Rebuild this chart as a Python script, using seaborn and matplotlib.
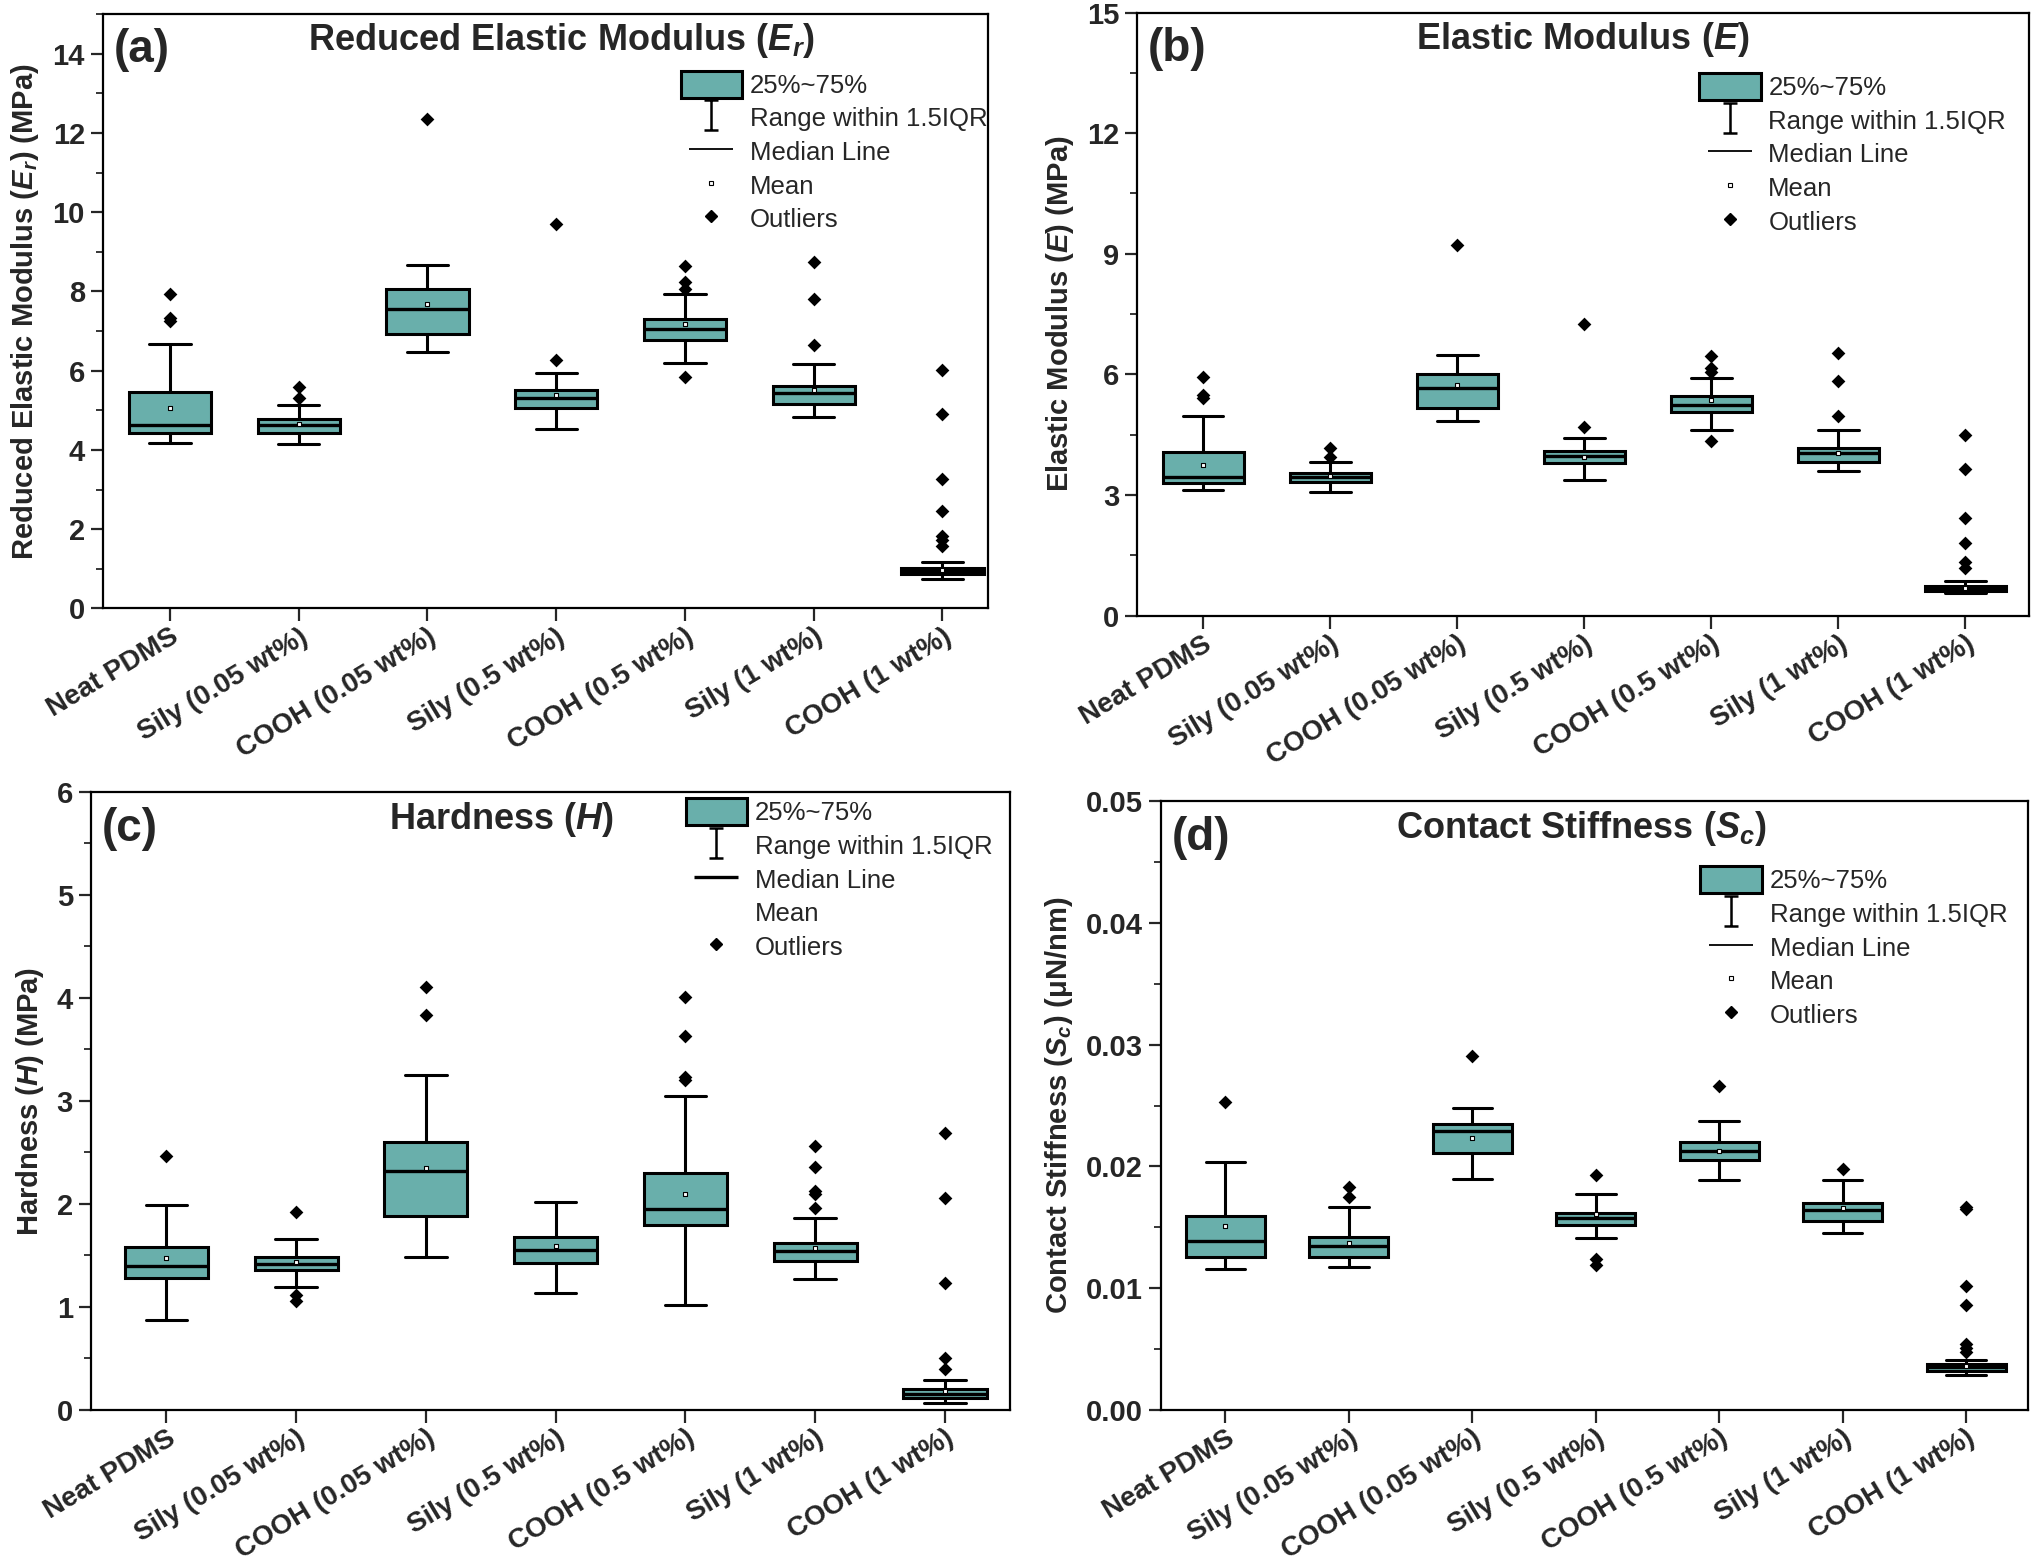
import numpy as np
import pandas as pd
import matplotlib
matplotlib.use("Agg")
import matplotlib.pyplot as plt
import matplotlib.transforms as mtransforms
import seaborn as sns
from matplotlib.patches import Patch
from matplotlib.lines import Line2D
from matplotlib.path import Path
from matplotlib.ticker import MultipleLocator, FormatStrFormatter

categories = ["Neat PDMS", "Sily (0.05 wt%)", "COOH (0.05 wt%)", "Sily (0.5 wt%)",
              "COOH (0.5 wt%)", "Sily (1 wt%)", "COOH (1 wt%)"]

# (a) Reduced elastic modulus
er_low = [4.17, 4.15, 6.48, 4.53, 6.19, 4.84, 0.74]
er_q1 = [4.44, 4.44, 6.92, 5.07, 6.78, 5.16, 0.86]
er_med = [4.64, 4.62, 7.55, 5.30, 7.05, 5.44, 0.95]
er_q3 = [5.47, 4.77, 8.06, 5.51, 7.31, 5.61, 1.03]
er_high = [6.67, 5.13, 8.66, 5.94, 7.94, 6.18, 1.17]
er_mean = [5.06, 4.65, 7.68, 5.38, 7.18, 5.52, 0.97]
er_out = [[7.94, 7.33, 7.26], [5.60, 5.30], [12.35], [6.28, 9.70],
          [8.64, 8.25, 8.07, 5.83], [8.74, 7.81, 6.66],
          [6.03, 4.91, 3.27, 2.46, 1.83, 1.73, 1.58]]

# (b) Elastic modulus
e_low = [3.13, 3.08, 4.84, 3.38, 4.63, 3.61, 0.56]
e_q1 = [3.30, 3.33, 5.17, 3.80, 5.06, 3.83, 0.61]
e_med = [3.45, 3.45, 5.66, 3.98, 5.25, 4.06, 0.68]
e_q3 = [4.07, 3.55, 6.02, 4.10, 5.46, 4.17, 0.74]
e_high = [4.96, 3.83, 6.48, 4.43, 5.92, 4.63, 0.87]
e_mean = [3.76, 3.47, 5.75, 3.95, 5.37, 4.06, 0.70]
e_out = [[5.93, 5.50, 5.41], [4.17, 3.95], [9.23], [4.69, 7.26],
         [6.47, 6.16, 6.06, 4.34], [6.54, 5.83, 4.98],
         [4.50, 3.66, 2.43, 1.82, 1.34, 1.18]]

# (c) Hardness
h_low = [0.87, 1.19, 1.49, 1.14, 1.02, 1.27, 0.07]
h_q1 = [1.28, 1.36, 1.88, 1.43, 1.80, 1.45, 0.12]
h_med = [1.40, 1.42, 2.32, 1.55, 1.95, 1.54, 0.16]
h_q3 = [1.58, 1.49, 2.60, 1.68, 2.30, 1.62, 0.20]
h_high = [1.99, 1.66, 3.25, 2.02, 3.05, 1.86, 0.29]
h_mean = [1.48, 1.44, 2.35, 1.59, 2.10, 1.57, 0.18]
h_out = [[2.47], [1.92, 1.12, 1.06], [4.11, 3.83], [],
         [4.01, 3.63, 3.23, 3.20], [2.56, 2.36, 2.13, 2.10, 1.96],
         [2.69, 2.06, 1.23, 0.50, 0.40]]

# (d) Contact stiffness
s_low = [0.0116, 0.0117, 0.0190, 0.0141, 0.0189, 0.0145, 0.0029]
s_q1 = [0.0126, 0.0126, 0.0211, 0.0152, 0.0205, 0.0155, 0.0032]
s_med = [0.0139, 0.0135, 0.0229, 0.0158, 0.0213, 0.0164, 0.0035]
s_q3 = [0.0159, 0.0142, 0.0235, 0.0162, 0.0220, 0.0170, 0.0038]
s_high = [0.0204, 0.0167, 0.0248, 0.0177, 0.0237, 0.0189, 0.0041]
s_mean = [0.0151, 0.0137, 0.0223, 0.0161, 0.0213, 0.0166, 0.0036]
s_out = [[0.0253], [0.0183, 0.0175], [0.0291], [0.0193, 0.0124, 0.0119],
         [0.0266], [0.0198],
         [0.0167, 0.0165, 0.0102, 0.0086, 0.0054, 0.0051, 0.0048]]

legend_labels = ["25%~75%", "Range within 1.5IQR", "Median Line", "Mean", "Outliers"]

TEAL = "#69AFAB"

sns.set_style("ticks")
plt.rcParams["font.family"] = ["Liberation Sans", "DejaVu Sans"]
plt.rcParams["mathtext.fontset"] = "custom"
plt.rcParams["mathtext.rm"] = "Liberation Sans:bold"
plt.rcParams["mathtext.bf"] = "Liberation Sans:bold"
plt.rcParams["mathtext.it"] = "Liberation Sans:italic:bold"
plt.rcParams["mathtext.bfit"] = "Liberation Sans:italic:bold"
plt.rcParams["axes.linewidth"] = 1.6

fig = plt.figure(figsize=(20.32, 15.63), dpi=100)

ibeam = Path([(-0.45, -1), (0.45, -1), (0, -1), (0, 1), (-0.45, 1), (0.45, 1)],
             [Path.MOVETO, Path.LINETO, Path.MOVETO, Path.LINETO, Path.MOVETO, Path.LINETO])

label_shift = mtransforms.ScaledTranslation(14 / 100, 0, fig.dpi_scale_trans)


def draw_panel(rect, low, q1, med, q3, high, mean, outliers, xlim, ylim, major, minor,
               fmt, ylabel, title, title_x, letter, leg_anchor, mean_visible=True,
               median_lw=1.3):
    ax = fig.add_axes(rect)
    box_df = pd.DataFrame({
        "group": np.repeat(categories, 5),
        "value": np.column_stack([low, q1, med, q3, high]).ravel(),
    })
    sns.boxplot(data=box_df, x="group", y="value", order=categories, whis=(0, 100),
                width=0.64, color=TEAL, saturation=1, linecolor="black", linewidth=2.2,
                showfliers=False, ax=ax, medianprops=dict(linewidth=2.4, color="black"))
    og, ov = [], []
    for c, vals in zip(categories, outliers):
        og += [c] * len(vals)
        ov += list(vals)
    out_df = pd.DataFrame({"group": og, "value": ov})
    sns.stripplot(data=out_df, x="group", y="value", order=categories, jitter=False,
                  marker="D", color="black", size=7, linewidth=0, ax=ax, zorder=5)
    mean_df = pd.DataFrame({"group": categories, "value": mean})
    sns.stripplot(data=mean_df, x="group", y="value", order=categories, jitter=False,
                  marker="s", size=3.5, color="white", edgecolor="black", linewidth=0.8,
                  ax=ax, zorder=6)
    ax.set_xlim(*xlim)
    ax.set_ylim(*ylim)
    ax.yaxis.set_major_locator(MultipleLocator(major))
    ax.yaxis.set_minor_locator(MultipleLocator(minor))
    ax.yaxis.set_major_formatter(FormatStrFormatter(fmt))
    ax.set_xticks(range(len(categories)))
    ax.set_xticklabels(categories, rotation=31, ha="right", va="top",
                       rotation_mode="anchor", fontsize=20, fontweight="bold")
    for t in ax.get_xticklabels():
        t.set_transform(t.get_transform() + label_shift)
    for t in ax.get_yticklabels():
        t.set_fontsize(21)
        t.set_fontweight("bold")
    ax.tick_params(axis="both", which="major", direction="out", length=9, width=1.6,
                   top=False, right=False)
    ax.tick_params(axis="y", which="minor", direction="out", length=5, width=1.3)
    ax.tick_params(axis="x", which="major", pad=2)
    ax.tick_params(axis="y", which="major", pad=4)
    ax.set_xlabel("")
    ax.set_ylabel(ylabel, fontsize=21, fontweight="bold", labelpad=8)
    for s in ax.spines.values():
        s.set_visible(True)
        s.set_linewidth(1.6)
        s.set_color("black")
    ax.text(title_x, 0.955, title, transform=ax.transAxes, ha="center", va="center",
            fontsize=26, fontweight="bold")
    ax.text(0.012, 0.94, letter, transform=ax.transAxes, ha="left", va="center",
            fontsize=33, fontweight="bold")
    handles = [
        Patch(facecolor=TEAL, edgecolor="black", linewidth=2.2),
        Line2D([], [], color="black", marker=ibeam, markersize=21, linestyle="None",
               markerfacecolor="none", markeredgewidth=1.8),
        Line2D([], [], color="black", marker="_", markersize=32, linestyle="None",
               markeredgewidth=median_lw),
        Line2D([], [], color="black", marker="s", markersize=3 if mean_visible else 0,
               markerfacecolor="white", markeredgewidth=0.8, linestyle="None"),
        Line2D([], [], color="black", marker="D", markersize=6, linestyle="None"),
    ]
    ax.legend(handles, legend_labels, loc="upper left", bbox_to_anchor=leg_anchor,
              frameon=False, fontsize=18.5, handlelength=2.4, handleheight=1.25,
              handletextpad=0.3, labelspacing=0.25, borderpad=0, borderaxespad=0)
    return ax


draw_panel([0.0507, 0.6107, 0.4353, 0.3803], er_low, er_q1, er_med, er_q3, er_high,
           er_mean, er_out, (-0.52, 6.35), (0, 15), 2, 1, "%d",
           r"Reduced Elastic Modulus ($\mathbfit{E}_{\mathbfit{r}}$) (MPa)",
           r"Reduced Elastic Modulus ($\mathbfit{E}_{\mathbfit{r}}$)", 0.518, "(a)",
           (0.653, 0.905))

draw_panel([0.5596, 0.606, 0.4389, 0.386], e_low, e_q1, e_med, e_q3, e_high,
           e_mean, e_out, (-0.52, 6.5), (0, 15), 3, 1.5, "%d",
           r"Elastic Modulus ($\mathbfit{E}$) (MPa)",
           r"Elastic Modulus ($\mathbfit{E}$)", 0.50, "(b)",
           (0.63, 0.90))

draw_panel([0.0448, 0.0979, 0.4522, 0.3954], h_low, h_q1, h_med, h_q3, h_high,
           h_mean, h_out, (-0.58, 6.5), (0, 6), 1, 0.5, "%d",
           r"Hardness ($\mathbfit{H}$) (MPa)",
           r"Hardness ($\mathbfit{H}$)", 0.447, "(c)",
           (0.647, 0.99), mean_visible=False, median_lw=2.4)

draw_panel([0.5714, 0.0979, 0.4266, 0.3896], s_low, s_q1, s_med, s_q3, s_high,
           s_mean, s_out, (-0.52, 6.5), (0, 0.05), 0.01, 0.005, "%.2f",
           r"Contact Stiffness ($\mathbfit{S}_{\mathbfit{c}}$) (μN/nm)",
           r"Contact Stiffness ($\mathbfit{S}_{\mathbfit{c}}$)", 0.485, "(d)",
           (0.622, 0.893))

fig.savefig("out.png", dpi=100)
